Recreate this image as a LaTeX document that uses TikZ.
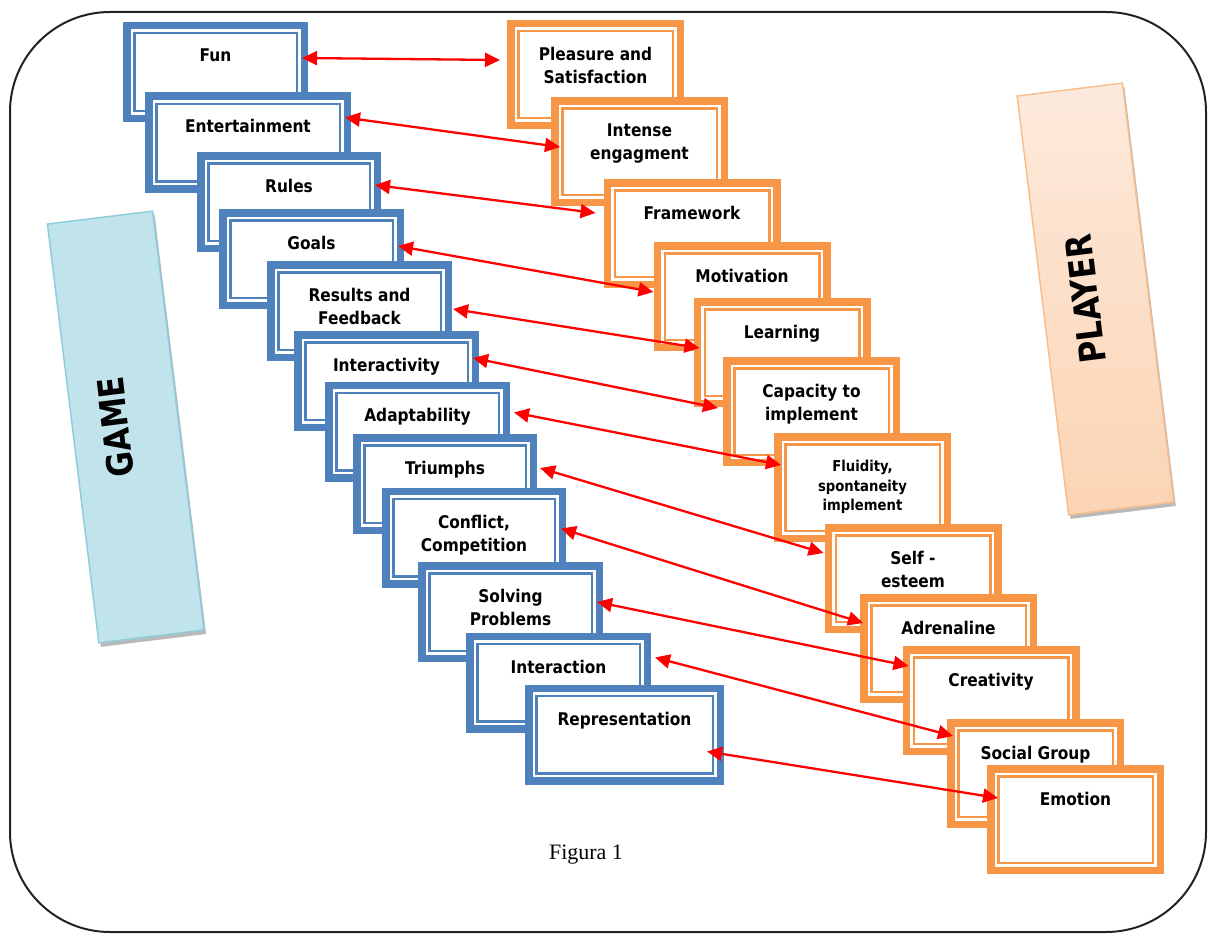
\documentclass[tikz,border=0pt]{standalone}
\usepackage{fontspec}
\usetikzlibrary{arrows.meta,shadows}
\newfontfamily\cardfont[FakeStretch=0.88]{DejaVu Sans}
\newfontfamily\panelfont[FakeStretch=0.85]{DejaVu Sans}
\newfontfamily\capfont{Liberation Serif}
\definecolor{gblue}{RGB}{79,129,189}
\definecolor{porange}{RGB}{247,150,70}
\definecolor{gamelight}{RGB}{226,242,247}
\definecolor{gamedark}{RGB}{192,227,236}
\definecolor{gameedge}{RGB}{143,205,220}
\definecolor{playlight}{RGB}{253,234,220}
\definecolor{playdark}{RGB}{251,212,180}
\definecolor{playedge}{RGB}{250,190,140}
\definecolor{framegray}{RGB}{35,35,35}

\tikzset{
  card/.style={draw=#1, fill=white, double=white, line width=2.5pt, double distance=2.5pt,
    preaction={draw=#1, line width=17.5pt}, outer sep=8.75pt, inner sep=0pt},
  gcard/.style={card=gblue, minimum height=82.5pt},
  pcard/.style={card=porange, minimum height=91.5pt},
  cardtext/.style={anchor=north, inner sep=0pt, align=center,
    font=\cardfont\bfseries\fontsize{17.5}{23}\selectfont},
  panel/.style={rotate=97, minimum width=422pt, minimum height=106pt, line width=1.5pt,
    drop shadow={shadow xshift=2pt, shadow yshift=-4pt, fill=gray!55, opacity=1}},
  paneltext/.style={rotate=97, inner sep=0pt, font=\panelfont\bfseries\fontsize{36}{40}\selectfont},
  link/.style={red, line width=2.3pt, {Triangle[length=15pt,width=14pt]}-{Triangle[length=15pt,width=14pt]}},
  frame/.style={framegray, line width=2pt, rounded corners=100pt},
}

\newcommand{\gamecard}[5][]{%
  \node[gcard, minimum width={(#4-17.5)*1pt}] (#2) at #3 {};
  \node[cardtext, #1] (#2-t) at ([yshift=-27pt]#2.north) {#5};
}
\newcommand{\playercard}[5][]{%
  \node[pcard, minimum width={(#4-17.5)*1pt}] (#2) at #3 {};
  \node[cardtext, #1] (#2-t) at ([yshift=-27pt]#2.north) {#5};
}
\newcommand{\mylink}[6]{%
  \draw[link] ([shift={(#2,#3)}]#1.north east) -- ([shift={(#5,#6)}]#4.north west);
}

\begin{document}
\begin{tikzpicture}[x=1pt, y=-1pt]
  \useasboundingbox (0,0) rectangle (1208,934);
  \draw[frame] (10,12) rectangle (1206,932);

  % side panels
  \node[panel, draw=gameedge, top color=gamedark, middle color=gamelight, bottom color=gamedark] (game) at (125.75,427) {};
  \node[paneltext] (game-t) at ([xshift=-10pt]game.center) {GAME};
  \node[panel, draw=playedge, top color=playlight, middle color=playlight, bottom color=playdark] (player) at (1095.5,299) {};
  \node[paneltext] (player-t) at ([xshift=-10pt]player.center) {PLAYER};

  % game side
  \gamecard{fun}{(215.5,72)}{185}{Fun}
  \gamecard{entertainment}{(248,142.5)}{206}{Entertainment}
  \gamecard{rules}{(289,202)}{184}{Rules}
  \gamecard{goals}{(311.5,259)}{185}{Goals}
  \gamecard{results}{(359.5,311)}{185}{Results and\\Feedback}
  \gamecard{interactivity}{(386.5,381)}{185}{Interactivity}
  \gamecard{adaptability}{(417.5,431.5)}{185}{Adaptability}
  \gamecard{triumphs}{(445,484)}{184}{Triumphs}
  \gamecard{conflict}{(474,537.5)}{184}{Conflict,\\Competition}
  \gamecard{solving}{(510.5,612)}{185}{Solving\\Problems}
  \gamecard{interaction}{(558.5,682.5)}{185}{Interaction}
  \gamecard{representation}{(624.5,734.5)}{199}{Representation}

  % player side
  \playercard{pleasure}{(595.5,74.5)}{177}{Pleasure and\\Satisfaction}
  \playercard{intense}{(639.5,151.5)}{177}{Intense\\engagment}
  \playercard{framework}{(692,233.5)}{177}{Framework}
  \playercard{motivation}{(742,296.5)}{177}{Motivation}
  \playercard{learning}{(782,352.5)}{177}{Learning}
  \playercard{capacity}{(811.5,411.5)}{177}{Capacity to\\implement}
  \playercard[font=\cardfont\bfseries\fontsize{15}{19.5}\selectfont]{fluidity}{(862.5,487.5)}{177}{Fluidity,\\spontaneity\\implement}
  \playercard{selfesteem}{(913,578.5)}{177}{Self -\\esteem}
  \playercard{adrenaline}{(948.5,648.5)}{177}{Adrenaline}
  \playercard{creativity}{(991,700.5)}{177}{Creativity}
  \playercard{social}{(1035.5,773.5)}{177}{Social Group}
  \playercard{emotion}{(1075.5,819.5)}{177}{Emotion}

  % links
  \mylink{fun}{-6}{36}{pleasure}{-7}{40}
  \mylink{entertainment}{-6}{25}{intense}{9}{50}
  \mylink{rules}{-6}{33}{framework}{-8}{34}
  \mylink{goals}{-6}{37}{motivation}{0}{50}
  \mylink{results}{1}{48}{learning}{6}{50}
  \mylink{interactivity}{-6}{27}{capacity}{-5}{51}
  \mylink{adaptability}{4}{31}{fluidity}{7}{32}
  \mylink{triumphs}{3}{34}{selfesteem}{-1}{29}
  \mylink{conflict}{-5}{41}{adrenaline}{3}{29}
  \mylink{solving}{-6}{40}{creativity}{6}{20}
  \mylink{interaction}{4}{25}{social}{6}{17}
  \mylink{representation}{-17}{67}{emotion}{11}{33}

  \node[font=\capfont\fontsize{22}{26}\selectfont] (caption) at (586,855) {Figura 1};
\end{tikzpicture}
\end{document}
